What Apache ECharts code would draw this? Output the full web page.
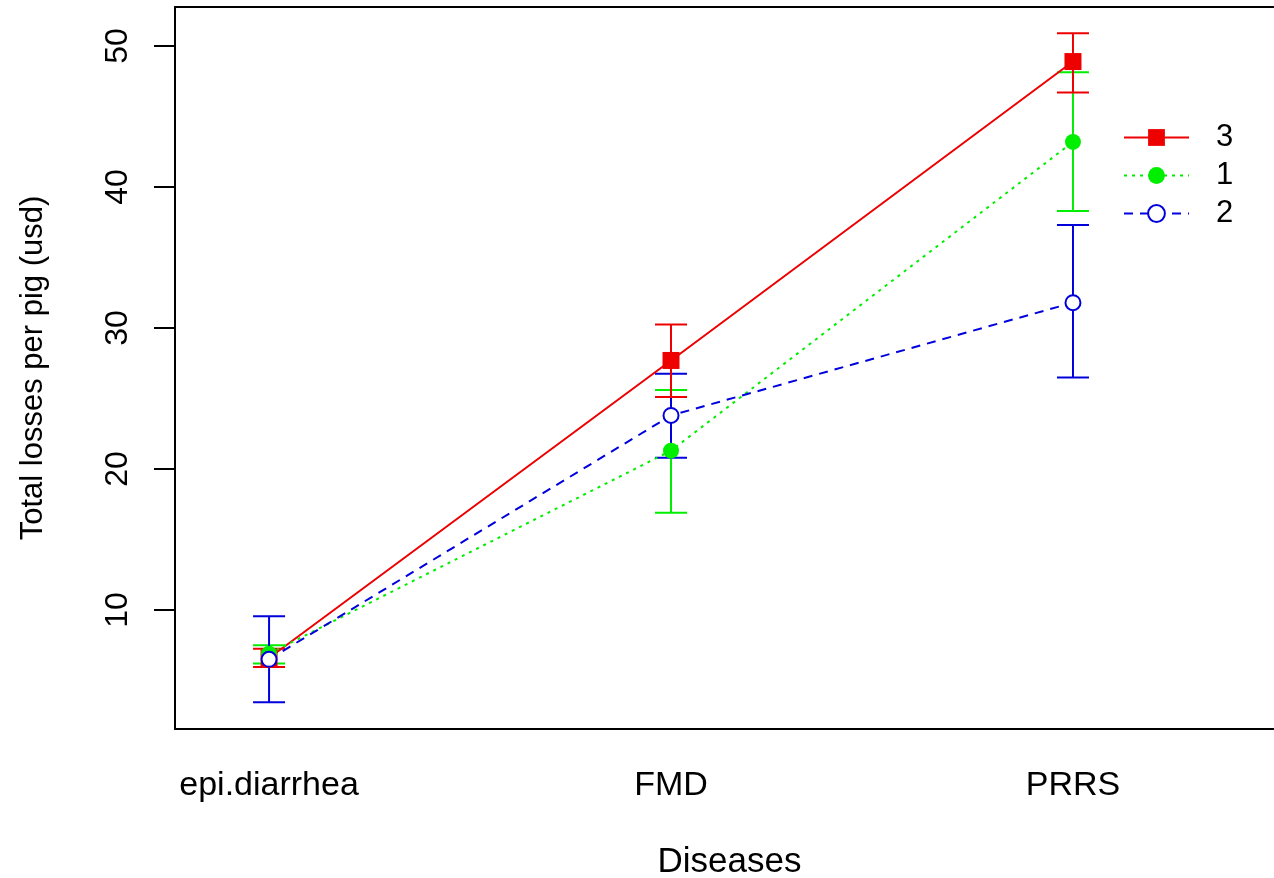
<!DOCTYPE html>
<html>
<head>
<meta charset="utf-8">
<script src="https://cdn.jsdelivr.net/npm/echarts@6/dist/echarts.min.js"></script>
<style>
  html, body { margin: 0; padding: 0; background: #fff; overflow: hidden; }
  #chart { width: 1274px; height: 878px; }
</style>
</head>
<body>
<div id="chart"></div>
<script>
// categories on the x axis (placed at 1, 2, 3)
const diseases = ['epi.diarrhea', 'FMD', 'PRRS']
const diseasePos = [1, 2, 3]
const yTicks = [10, 20, 30, 40, 50]

// group 3
const mean3 = [6.6, 27.7, 48.9]
const low3 = [5.95, 25.1, 46.7]
const high3 = [7.25, 30.25, 50.9]
// group 1
const mean1 = [6.9, 21.3, 43.2]
const low1 = [6.2, 16.9, 38.3]
const high1 = [7.5, 25.6, 48.15]
// group 2
const mean2 = [6.5, 23.8, 31.8]
const low2 = [3.45, 20.8, 26.5]
const high2 = [9.55, 26.75, 37.3]

const FONT = 'Liberation Sans, Arial, sans-serif'

function errorBars(low, high, color) {
  return {
    type: 'custom',
    z: 2,
    silent: true,
    encode: { x: 0, y: [1, 2] },
    data: diseasePos.map((p, i) => [p, low[i], high[i]]),
    renderItem: function (params, api) {
      const x = api.value(0)
      const top = api.coord([x, api.value(2)])
      const bot = api.coord([x, api.value(1)])
      const w = 16
      const style = { stroke: color, lineWidth: 2 }
      return {
        type: 'group',
        children: [
          { type: 'line', shape: { x1: top[0], y1: top[1], x2: bot[0], y2: bot[1] }, style },
          { type: 'line', shape: { x1: top[0] - w, y1: top[1], x2: top[0] + w, y2: top[1] }, style },
          { type: 'line', shape: { x1: bot[0] - w, y1: bot[1], x2: bot[0] + w, y2: bot[1] }, style }
        ]
      }
    }
  }
}

function meanLine(name, mean, color, dash, symbol, size, fill) {
  return {
    name: name,
    type: 'line',
    z: 3,
    data: diseasePos.map((p, i) => [p, mean[i]]),
    symbol: symbol,
    symbolSize: size,
    showSymbol: true,
    lineStyle: { color: color, width: 2, type: dash },
    itemStyle: { color: fill, borderColor: color, borderWidth: fill === '#fff' ? 2 : 0, opacity: 1 }
  }
}

function constructOption() {
  return {
    animation: false,
    backgroundColor: '#fff',
    grid: {
      left: 175, top: 7, width: 1109, height: 722,
      outerBoundsMode: 'none',
      show: true, borderColor: '#000', borderWidth: 2
    },
    legend: {
      data: ['3', '1', '2'],
      orient: 'vertical',
      left: 1123,
      top: 122,
      padding: 0,
      itemWidth: 65,
      itemHeight: 21,
      itemGap: 7,
      textStyle: { fontFamily: FONT, fontSize: 31, color: '#000', padding: [0, 0, 0, 22] }
    },
    xAxis: {
      type: 'value',
      min: 0.766,
      max: 3.525,
      name: 'Diseases',
      nameLocation: 'middle',
      nameGap: 116,
      nameTextStyle: { fontFamily: FONT, fontSize: 35, color: '#000' },
      axisLine: { show: false },
      axisTick: { show: false },
      splitLine: { show: false },
      axisLabel: {
        customValues: diseasePos,
        formatter: v => diseases[Math.round(v) - 1],
        margin: 40,
        fontFamily: FONT, fontSize: 34, color: '#000'
      }
    },
    yAxis: {
      type: 'value',
      min: 1.56,
      max: 52.77,
      name: 'Total losses per pig (usd)',
      nameLocation: 'middle',
      nameGap: 126,
      nameTextStyle: { fontFamily: FONT, fontSize: 31, color: '#000' },
      axisLine: { show: false },
      splitLine: { show: false },
      axisTick: {
        show: true, customValues: yTicks, length: 21,
        lineStyle: { color: '#000', width: 2 }
      },
      axisLabel: {
        customValues: yTicks,
        rotate: 90,
        margin: 41,
        fontFamily: FONT, fontSize: 32, color: '#000'
      }
    },
    series: [
      errorBars(low1, high1, '#00ee00'),
      errorBars(low2, high2, '#0000dd'),
      errorBars(low3, high3, '#ee0000'),
      meanLine('3', mean3, '#ee0000', 'solid', 'rect', 17, '#ee0000'),
      meanLine('1', mean1, '#00ee00', [3, 5], 'circle', 16, '#00ee00'),
      meanLine('2', mean2, '#0000dd', [9, 7], 'circle', 15, '#fff')
    ]
  }
}

function render(option) {
  const chartDom = document.getElementById('chart')
  const myChart = echarts.init(chartDom, null, { renderer: 'canvas' })
  myChart.setOption(option)
}

render(constructOption())
</script>
</body>
</html>
